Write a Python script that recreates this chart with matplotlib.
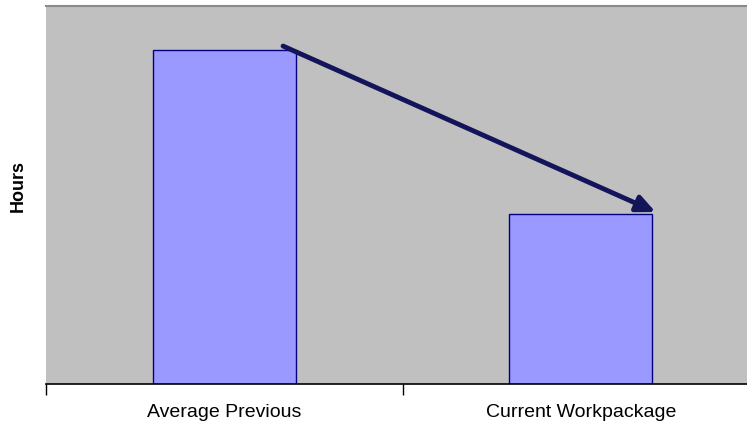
import matplotlib.pyplot as plt
from matplotlib.ticker import FixedLocator

categories = ["Average Previous", "Current Workpackage"]
hours = [10.0, 5.1]

plt.rcParams['font.family'] = ['Liberation Sans', 'DejaVu Sans']

fig = plt.figure(figsize=(7.47, 4.39), dpi=100)
ax = fig.add_axes([46 / 747, 1 - 385 / 439, 713 / 747, 378 / 439])

x = list(range(len(categories)))
width = 0.4
ax.bar(x, hours, width=width, color="#9999ff", edgecolor="#000080", linewidth=1.0, zorder=2)

# trend arrow from previous average down to the current workpackage
ax.annotate("", xy=(x[1] + width / 2 + 0.01, hours[1] + 0.05), xytext=(x[0] + 0.165, hours[0] + 0.12),
            arrowprops=dict(arrowstyle="-|>,head_length=1.1,head_width=0.5", color="#14145a",
                            lw=3.5, shrinkA=0, shrinkB=0), zorder=3)

ax.set_xlim(-0.5, 1.5)
ax.set_ylim(0, 11.32)
ax.set_facecolor("#c0c0c0")

ax.set_xticks(x)
ax.set_xticklabels(categories, fontsize=14)
ax.tick_params(axis="x", which="major", length=0, pad=14)
ax.xaxis.set_minor_locator(FixedLocator([-0.5, 0.5, 1.5]))
ax.tick_params(axis="x", which="minor", length=8, width=1, color="black")
ax.set_yticks([])

for side in ["left", "right"]:
    ax.spines[side].set_visible(False)
ax.spines["top"].set_color("#8a8a8a")
ax.spines["top"].set_linewidth(1.5)
ax.spines["bottom"].set_color("black")
ax.spines["bottom"].set_linewidth(1.2)

fig.text(18 / 747, 1 - 186 / 439, "Hours", rotation=90, fontsize=13, fontweight="bold",
         ha="center", va="center")

fig.savefig("out.png", dpi=100)
